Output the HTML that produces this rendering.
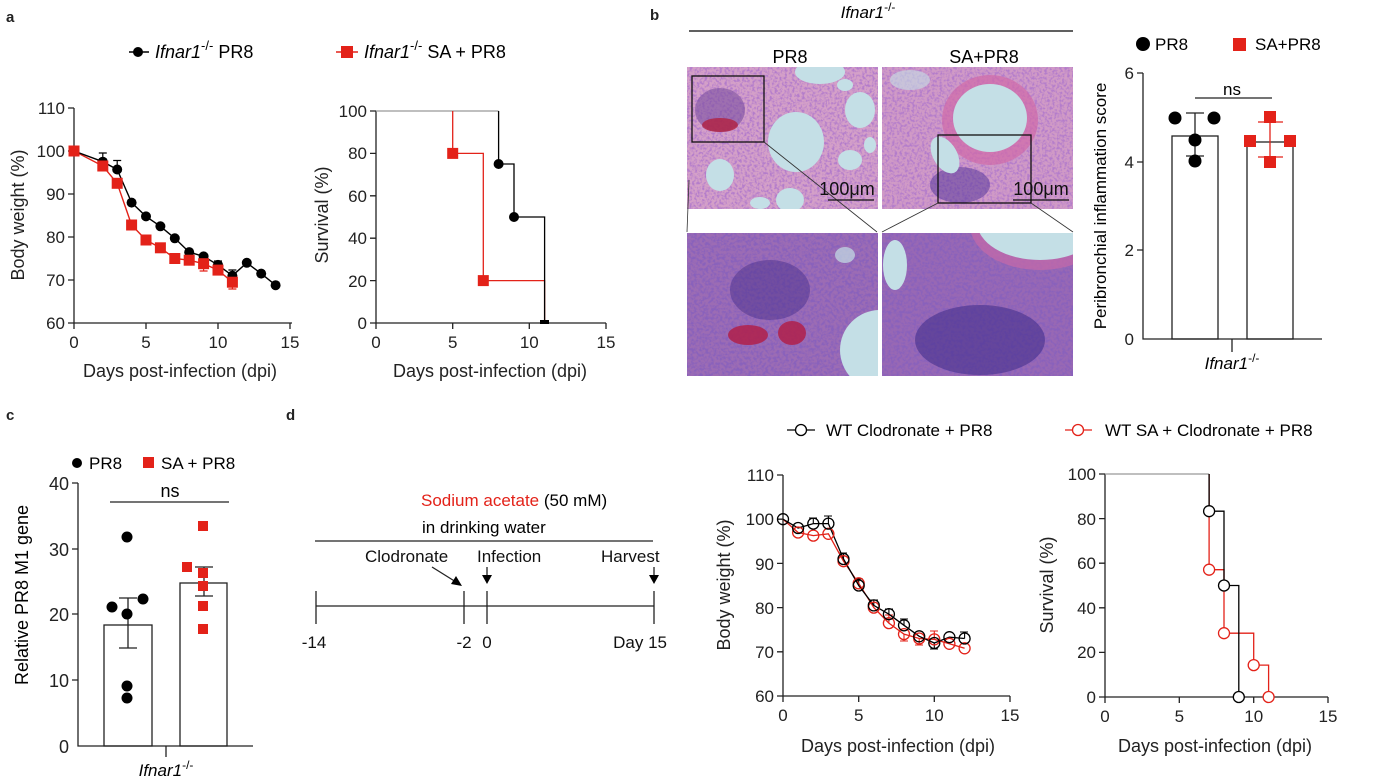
<!DOCTYPE html>
<html><head><meta charset="utf-8"><style>
html,body{margin:0;padding:0;background:#fff;}
svg{display:block;font-family:"Liberation Sans",Arial,sans-serif;}
</style></head><body>
<svg width="1377" height="780" viewBox="0 0 1377 780" xmlns="http://www.w3.org/2000/svg">
<defs>
<filter id="nz" x="0" y="0" width="100%" height="100%">
<feTurbulence type="fractalNoise" baseFrequency="0.4" numOctaves="2" seed="3"/>
<feColorMatrix values="0 0 0 0 0.45  0 0 0 0 0.2  0 0 0 0 0.6  3.5 0 0 0 -1.5"/>
</filter>
<filter id="nz2" x="0" y="0" width="100%" height="100%">
<feTurbulence type="fractalNoise" baseFrequency="0.35" numOctaves="2" seed="7"/>
<feColorMatrix values="0 0 0 0 0.25  0 0 0 0 0.12  0 0 0 0 0.5  3.5 0 0 0 -1.4"/>
</filter>
<clipPath id="c1"><rect x="687" y="67" width="191" height="142"/></clipPath>
<clipPath id="c2"><rect x="882" y="67" width="191" height="142"/></clipPath>
<clipPath id="c3"><rect x="687" y="233" width="191" height="143"/></clipPath>
<clipPath id="c4"><rect x="882" y="233" width="191" height="143"/></clipPath>
</defs>

<g font-weight="bold" font-size="15" fill="#222">
<text x="6" y="22">a</text><text x="650" y="20">b</text><text x="6" y="420">c</text><text x="286" y="420">d</text>
</g>

<!-- Panel a legend -->
<g font-size="18">
<line x1="129" y1="52" x2="149" y2="52" stroke="#000" stroke-width="1.5"/><circle cx="138" cy="52" r="5" fill="#000"/>
<text x="155" y="58"><tspan font-style="italic">Ifnar1</tspan><tspan font-size="13" dy="-8">-/-</tspan><tspan dy="8"> PR8</tspan></text>
<line x1="336" y1="52" x2="358" y2="52" stroke="#e32219" stroke-width="1.5"/><rect x="341" y="46" width="12" height="12" fill="#e32219"/>
<text x="364" y="58"><tspan font-style="italic">Ifnar1</tspan><tspan font-size="13" dy="-8">-/-</tspan><tspan dy="8"> SA + PR8</tspan></text>
</g>

<!-- a-left -->
<g stroke="#222" stroke-width="1.3" fill="none">
<path d="M74,108V323H292"/>
<path d="M68,108H74M68,151H74M68,194H74M68,237H74M68,280H74M68,323H74"/>
<path d="M74,323V329M146,323V329M218,323V329M290,323V329"/>
</g>
<g font-size="17" text-anchor="end" fill="#222">
<text x="65" y="114">110</text><text x="65" y="157">100</text><text x="65" y="200">90</text><text x="65" y="243">80</text><text x="65" y="286">70</text><text x="65" y="329">60</text>
</g>
<g font-size="17" text-anchor="middle" fill="#222">
<text x="74" y="348">0</text><text x="146" y="348">5</text><text x="218" y="348">10</text><text x="290" y="348">15</text>
<text x="180" y="377" font-size="18">Days post-infection (dpi)</text>
<text transform="translate(24,215) rotate(-90)" font-size="18">Body weight (%)</text>
</g>
<g stroke="#000" stroke-width="1.2">
<path d="M102.8,161.7V153M98.8,153H106.8M117.2,169.5V160.5M113.2,160.5H121.2M218,264.9V261M214,261H222M232.4,275.7V270M228.4,270H236.4"/>
</g>
<g stroke="#e32219" stroke-width="1.2">
<path d="M232.4,282.2V289M228.4,289H236.4M232.4,282V275M203.6,263.7V271M199.6,271H207.6"/>
</g>
<polyline fill="none" stroke="#e32219" stroke-width="1.4" points="74,151 102.8,166 117.2,183.3 131.6,225 146,240 160.4,247.8 174.8,258.5 189.2,260.2 203.6,263.7 218,270.1 232.4,282.2"/>
<polyline fill="none" stroke="#000" stroke-width="1.4" points="74,151 102.8,161.7 117.2,169.5 131.6,202.6 146,216.4 160.4,226.3 174.8,238.3 189.2,252.1 203.6,256.4 218,264.9 232.4,275.7 246.8,262.8 261.2,273.6 275.6,285.2"/>
<g fill="#000">
<circle cx="102.8" cy="161.7" r="5"/><circle cx="117.2" cy="169.5" r="5"/><circle cx="131.6" cy="202.6" r="5"/><circle cx="146" cy="216.4" r="5"/><circle cx="160.4" cy="226.3" r="5"/><circle cx="174.8" cy="238.3" r="5"/><circle cx="189.2" cy="252.1" r="5"/><circle cx="203.6" cy="256.4" r="5"/><circle cx="218" cy="264.9" r="5"/><circle cx="232.4" cy="275.7" r="5"/><circle cx="246.8" cy="262.8" r="5"/><circle cx="261.2" cy="273.6" r="5"/><circle cx="275.6" cy="285.2" r="5"/>
</g>
<g fill="#e32219">
<rect x="68.5" y="145.5" width="11" height="11"/><rect x="97.3" y="160.5" width="11" height="11"/><rect x="111.7" y="177.8" width="11" height="11"/><rect x="126.1" y="219.5" width="11" height="11"/><rect x="140.5" y="234.5" width="11" height="11"/><rect x="154.9" y="242.3" width="11" height="11"/><rect x="169.3" y="253" width="11" height="11"/><rect x="183.7" y="254.7" width="11" height="11"/><rect x="198.1" y="258.2" width="11" height="11"/><rect x="212.5" y="264.6" width="11" height="11"/><rect x="226.9" y="276.7" width="11" height="11"/>
</g>

<!-- a-right -->
<g stroke="#222" stroke-width="1.3" fill="none">
<path d="M376,111V323H606"/>
<path d="M370,111H376M370,153.4H376M370,195.8H376M370,238.2H376M370,280.6H376M370,323H376"/>
<path d="M376,323V329M452.7,323V329M529.3,323V329M606,323V329"/>
</g>
<g font-size="17" text-anchor="end" fill="#222">
<text x="367" y="117">100</text><text x="367" y="159">80</text><text x="367" y="202">60</text><text x="367" y="244">40</text><text x="367" y="287">20</text><text x="367" y="329">0</text>
</g>
<g font-size="17" text-anchor="middle" fill="#222">
<text x="376" y="348">0</text><text x="452.7" y="348">5</text><text x="529.3" y="348">10</text><text x="606" y="348">15</text>
<text x="490" y="377" font-size="18">Days post-infection (dpi)</text>
<text transform="translate(328,215) rotate(-90)" font-size="18">Survival (%)</text>
</g>
<path d="M376,111H498.6" stroke="#999" stroke-width="1.3" fill="none"/>
<path d="M452.7,111V153.4H483.3V280.6H544.6V323" stroke="#e32219" stroke-width="1.3" fill="none"/>
<path d="M498.6,111V164H514V217H544.6V323" stroke="#000" stroke-width="1.3" fill="none"/>
<rect x="447.2" y="147.9" width="11" height="11" fill="#e32219"/><rect x="477.8" y="275.1" width="11" height="11" fill="#e32219"/>
<circle cx="498.6" cy="164" r="5"/><circle cx="514" cy="217" r="5"/>
<rect x="540" y="320" width="9" height="4" fill="#000"/>

<!-- Panel b histology -->
<text x="868" y="18" font-size="17" font-style="italic" text-anchor="middle">Ifnar1<tspan font-size="12" dy="-7" font-style="normal">-/-</tspan></text>
<line x1="689" y1="31" x2="1073" y2="31" stroke="#000" stroke-width="1.3"/>
<text x="790" y="63" font-size="18" text-anchor="middle">PR8</text>
<text x="984" y="63" font-size="18" text-anchor="middle">SA+PR8</text>

<g clip-path="url(#c1)">
<rect x="687" y="67" width="191" height="142" fill="#d4a0c8"/>
<rect x="687" y="67" width="191" height="142" filter="url(#nz)"/>
<ellipse cx="720" cy="110" rx="25" ry="22" fill="#7a4fa0" opacity="0.6"/>
<ellipse cx="720" cy="125" rx="18" ry="7" fill="#b22040" opacity="0.8"/>
<ellipse cx="796" cy="142" rx="28" ry="30" fill="#c4dfe6"/>
<ellipse cx="820" cy="72" rx="25" ry="12" fill="#c4dfe6"/>
<ellipse cx="860" cy="110" rx="15" ry="18" fill="#c4dfe6"/>
<ellipse cx="850" cy="160" rx="12" ry="10" fill="#c4dfe6"/>
<ellipse cx="720" cy="175" rx="14" ry="16" fill="#c4dfe6"/>
<ellipse cx="790" cy="200" rx="14" ry="12" fill="#c4dfe6"/>
<ellipse cx="760" cy="203" rx="10" ry="6" fill="#c4dfe6"/>
<ellipse cx="845" cy="85" rx="8" ry="6" fill="#c4dfe6"/>
<ellipse cx="870" cy="145" rx="6" ry="8" fill="#c4dfe6"/>
</g>
<g clip-path="url(#c2)">
<rect x="882" y="67" width="191" height="142" fill="#d09ac6"/>
<rect x="882" y="67" width="191" height="142" filter="url(#nz)"/>
<ellipse cx="990" cy="120" rx="48" ry="45" fill="#d06aa8" opacity="0.7"/>
<ellipse cx="990" cy="118" rx="37" ry="34" fill="#c4dfe6"/>
<ellipse cx="960" cy="185" rx="30" ry="18" fill="#5a3a9a" opacity="0.55"/>
<ellipse cx="945" cy="155" rx="12" ry="20" fill="#c4dfe6" transform="rotate(-30 945 155)"/>
<ellipse cx="910" cy="80" rx="20" ry="10" fill="#c4dfe6" opacity="0.6"/>
</g>
<g clip-path="url(#c3)">
<rect x="687" y="233" width="191" height="143" fill="#9c6cb4"/>
<rect x="687" y="233" width="191" height="143" filter="url(#nz2)"/>
<ellipse cx="770" cy="290" rx="40" ry="30" fill="#4a2f8c" opacity="0.5"/>
<ellipse cx="748" cy="335" rx="20" ry="10" fill="#b0204a" opacity="0.85"/>
<ellipse cx="792" cy="333" rx="14" ry="12" fill="#b0204a" opacity="0.85"/>
<ellipse cx="880" cy="350" rx="40" ry="40" fill="#c4dfe6"/>
<ellipse cx="845" cy="255" rx="10" ry="8" fill="#c4dfe6" opacity="0.7"/>
</g>
<g clip-path="url(#c4)">
<rect x="882" y="233" width="191" height="143" fill="#9868b4"/>
<rect x="882" y="233" width="191" height="143" filter="url(#nz2)"/>
<ellipse cx="1040" cy="225" rx="70" ry="45" fill="#c66aa8" opacity="0.7"/>
<ellipse cx="1040" cy="222" rx="63" ry="38" fill="#c4dfe6"/>
<ellipse cx="895" cy="265" rx="12" ry="25" fill="#c4dfe6"/>
<ellipse cx="980" cy="340" rx="65" ry="35" fill="#3c2a88" opacity="0.55"/>
</g>
<g fill="none" stroke="#111" stroke-width="1.3">
<rect x="692" y="76" width="72" height="66"/>
<rect x="938" y="135" width="93" height="68"/>
</g>
<g stroke="#333" stroke-width="0.8">
<line x1="764" y1="142" x2="877" y2="232"/><line x1="689" y1="180" x2="687" y2="232"/>
<line x1="938" y1="203" x2="882" y2="232"/><line x1="1031" y1="203" x2="1073" y2="232"/>
</g>
<g font-size="18" text-anchor="middle" fill="#111">
<text x="847" y="195">100μm</text><text x="1041" y="195">100μm</text>
</g>
<g stroke="#111" stroke-width="1.3"><line x1="828" y1="200" x2="874" y2="200"/><line x1="1013" y1="200" x2="1069" y2="200"/></g>

<!-- b bar chart -->
<circle cx="1143" cy="44" r="7" fill="#000"/><text x="1155" y="50" font-size="17">PR8</text>
<rect x="1233" y="38" width="13" height="13" fill="#e32219"/><text x="1255" y="50" font-size="17">SA+PR8</text>
<g stroke="#222" stroke-width="1.3" fill="none">
<path d="M1143,73V339H1322"/>
<path d="M1137,73H1143M1137,162H1143M1137,250H1143M1232,339V352"/>
<rect x="1172" y="136" width="46" height="203"/>
<rect x="1247" y="142" width="46" height="197"/>
<path d="M1195,98H1272"/>
<path d="M1195,113V156M1186,113H1204M1186,156H1204"/>
</g>
<path d="M1270,122V157M1258,122H1283M1258,157H1283" stroke="#e32219" stroke-width="1.3"/>
<g font-size="17" text-anchor="end" fill="#222">
<text x="1134" y="79">6</text><text x="1134" y="168">4</text><text x="1134" y="256">2</text><text x="1134" y="345">0</text>
</g>
<text x="1232" y="95" font-size="17" text-anchor="middle">ns</text>
<text transform="translate(1106,206) rotate(-90)" font-size="17" text-anchor="middle">Peribronchial inflammation score</text>
<text x="1232" y="369" font-size="17" font-style="italic" text-anchor="middle">Ifnar1<tspan font-size="12" dy="-7" font-style="normal">-/-</tspan></text>
<g fill="#000"><circle cx="1175" cy="118" r="6.5"/><circle cx="1214" cy="118" r="6.5"/><circle cx="1195" cy="140" r="6.5"/><circle cx="1195" cy="161" r="6.5"/></g>
<g fill="#e32219"><rect x="1244" y="135" width="12" height="12"/><rect x="1284" y="135" width="12" height="12"/><rect x="1264" y="111" width="12" height="12"/><rect x="1264" y="156" width="12" height="12"/></g>

<!-- Panel c -->
<circle cx="77" cy="463" r="5" fill="#000"/><text x="89" y="469" font-size="17">PR8</text>
<rect x="143" y="457" width="11" height="11" fill="#e32219"/><text x="161" y="469" font-size="17">SA + PR8</text>
<g stroke="#222" stroke-width="1.3" fill="none">
<path d="M78,483V746H253"/>
<path d="M72,483H78M72,549H78M72,614H78M72,680H78M166,746V757"/>
<rect x="104" y="625" width="48" height="121"/>
<rect x="180" y="583" width="47" height="163"/>
<path d="M110,502H229"/>
<path d="M128,598V648M119,598H137M119,648H137"/>
<path d="M204,567V596M195,567H213M195,596H213"/>
</g>
<g font-size="18" text-anchor="end" fill="#222">
<text x="69" y="490">40</text><text x="69" y="556">30</text><text x="69" y="621">20</text><text x="69" y="687">10</text><text x="69" y="753">0</text>
</g>
<text x="170" y="497" font-size="18" text-anchor="middle">ns</text>
<text transform="translate(28,595) rotate(-90)" font-size="18" text-anchor="middle">Relative PR8 M1 gene</text>
<text x="166" y="776" font-size="17" font-style="italic" text-anchor="middle">Ifnar1<tspan font-size="12" dy="-7" font-style="normal">-/-</tspan></text>
<g fill="#000"><circle cx="112" cy="607" r="5.5"/><circle cx="127" cy="614" r="5.5"/><circle cx="143" cy="599" r="5.5"/><circle cx="127" cy="537" r="5.5"/><circle cx="127" cy="686" r="5.5"/><circle cx="127" cy="698" r="5.5"/></g>
<g fill="#e32219"><rect x="182" y="562" width="10" height="10"/><rect x="198" y="521" width="10" height="10"/><rect x="198" y="568" width="10" height="10"/><rect x="198" y="581" width="10" height="10"/><rect x="198" y="601" width="10" height="10"/><rect x="198" y="624" width="10" height="10"/></g>

<!-- Panel d timeline -->
<text x="421" y="506" font-size="17"><tspan fill="#e32219">Sodium acetate</tspan> (50 mM)</text>
<text x="422" y="533" font-size="17">in drinking water</text>
<line x1="315" y1="541" x2="653" y2="541" stroke="#222" stroke-width="1.3"/>
<g font-size="17" fill="#111">
<text x="365" y="562">Clodronate</text><text x="477" y="562">Infection</text><text x="601" y="562">Harvest</text>
</g>
<g stroke="#222" stroke-width="1.3">
<line x1="316" y1="606" x2="654" y2="606"/>
<line x1="316" y1="591" x2="316" y2="624"/><line x1="464" y1="591" x2="464" y2="624"/><line x1="487" y1="591" x2="487" y2="624"/><line x1="654" y1="591" x2="654" y2="624"/>
<line x1="432" y1="567" x2="456" y2="582"/><line x1="487" y1="567" x2="487" y2="576"/><line x1="654" y1="567" x2="654" y2="576"/>
</g>
<g fill="#000">
<polygon points="462,586 451,584 456,576"/>
<polygon points="482,575 492,575 487,584"/><polygon points="649,575 659,575 654,584"/>
</g>
<g font-size="17" text-anchor="middle" fill="#111">
<text x="314" y="648">-14</text><text x="464" y="648">-2</text><text x="487" y="648">0</text><text x="667" y="648" text-anchor="end">Day 15</text>
</g>

<!-- d legend -->
<line x1="787" y1="430" x2="815" y2="430" stroke="#000" stroke-width="1.3"/><circle cx="801" cy="430" r="5.5" fill="#fff" stroke="#000" stroke-width="1.3"/>
<text x="826" y="436" font-size="17">WT Clodronate + PR8</text>
<line x1="1065" y1="430" x2="1092" y2="430" stroke="#e32219" stroke-width="1.3"/><circle cx="1078" cy="430" r="5.5" fill="#fff" stroke="#e32219" stroke-width="1.3"/>
<text x="1105" y="436" font-size="17">WT SA + Clodronate + PR8</text>

<!-- d-left -->
<g stroke="#222" stroke-width="1.3" fill="none">
<path d="M783,475V696H1010"/>
<path d="M777,475H783M777,519.2H783M777,563.4H783M777,607.6H783M777,651.8H783M777,696H783"/>
<path d="M783,696V702M858.7,696V702M934.3,696V702M1010,696V702"/>
</g>
<g font-size="17" text-anchor="end" fill="#222">
<text x="774" y="481">110</text><text x="774" y="525">100</text><text x="774" y="570">90</text><text x="774" y="614">80</text><text x="774" y="658">70</text><text x="774" y="702">60</text>
</g>
<g font-size="17" text-anchor="middle" fill="#222">
<text x="783" y="721">0</text><text x="858.7" y="721">5</text><text x="934.3" y="721">10</text><text x="1010" y="721">15</text>
<text x="898" y="752" font-size="18">Days post-infection (dpi)</text>
<text transform="translate(730,585) rotate(-90)" font-size="18">Body weight (%)</text>
</g>
<g stroke="#e32219" stroke-width="1.1">
<path d="M888.9,623V615M885,615H893M904,634V641M900,641H908M919.2,638.5V645M915,645H923M934.3,639.4V631M930,631H938"/>
</g>
<g stroke="#000" stroke-width="1.1">
<path d="M813.3,523.6V518M809,518H817M828.4,523.6V516M824,516H832M843.5,559V553M839,553H847M858.7,585.5V579M855,579H863M873.8,605.4V600M870,600H878M888.9,614.2V609M885,609H893M904,625.3V619M900,619H908M934.3,643V649M930,649H938M964.6,638.5V632M960,632H968"/>
</g>
<polyline fill="none" stroke="#e32219" stroke-width="1.3" points="783,519.2 798.1,532.5 813.3,535.6 828.4,533.8 843.5,561.2 858.7,583.3 873.8,607.6 888.9,623.1 904,634.1 919.2,638.5 934.3,639.4 949.4,643.8 964.6,648.3"/>
<polyline fill="none" stroke="#000" stroke-width="1.3" points="783,519.2 798.1,528 813.3,523.6 828.4,523.6 843.5,559 858.7,585.5 873.8,605.4 888.9,614.2 904,625.3 919.2,636.3 934.3,643 949.4,637.2 964.6,638.5"/>
<g fill="none" stroke="#e32219" stroke-width="1.3">
<circle cx="798.1" cy="532.5" r="5.5"/><circle cx="813.3" cy="535.6" r="5.5"/><circle cx="828.4" cy="533.8" r="5.5"/><circle cx="843.5" cy="561.2" r="5.5"/><circle cx="858.7" cy="583.3" r="5.5"/><circle cx="873.8" cy="607.6" r="5.5"/><circle cx="888.9" cy="623.1" r="5.5"/><circle cx="904" cy="634.1" r="5.5"/><circle cx="919.2" cy="638.5" r="5.5"/><circle cx="934.3" cy="639.4" r="5.5"/><circle cx="949.4" cy="643.8" r="5.5"/><circle cx="964.6" cy="648.3" r="5.5"/>
</g>
<g fill="none" stroke="#000" stroke-width="1.3">
<circle cx="783" cy="519.2" r="5.5"/><circle cx="798.1" cy="528" r="5.5"/><circle cx="813.3" cy="523.6" r="5.5"/><circle cx="828.4" cy="523.6" r="5.5"/><circle cx="843.5" cy="559" r="5.5"/><circle cx="858.7" cy="585.5" r="5.5"/><circle cx="873.8" cy="605.4" r="5.5"/><circle cx="888.9" cy="614.2" r="5.5"/><circle cx="904" cy="625.3" r="5.5"/><circle cx="919.2" cy="636.3" r="5.5"/><circle cx="934.3" cy="643" r="5.5"/><circle cx="949.4" cy="637.2" r="5.5"/><circle cx="964.6" cy="638.5" r="5.5"/>
</g>

<!-- d-right -->
<g stroke="#222" stroke-width="1.3" fill="none">
<path d="M1105,474V697H1328"/>
<path d="M1099,474H1105M1099,518.6H1105M1099,563.2H1105M1099,607.8H1105M1099,652.4H1105M1099,697H1105"/>
<path d="M1105,697V703M1179.3,697V703M1253.7,697V703M1328,697V703"/>
</g>
<g font-size="17" text-anchor="end" fill="#222">
<text x="1096" y="480">100</text><text x="1096" y="525">80</text><text x="1096" y="569">60</text><text x="1096" y="614">40</text><text x="1096" y="658">20</text><text x="1096" y="703">0</text>
</g>
<g font-size="17" text-anchor="middle" fill="#222">
<text x="1105" y="722">0</text><text x="1179.3" y="722">5</text><text x="1253.7" y="722">10</text><text x="1328" y="722">15</text>
<text x="1215" y="752" font-size="18">Days post-infection (dpi)</text>
<text transform="translate(1053,585) rotate(-90)" font-size="18">Survival (%)</text>
</g>
<path d="M1105,474H1209.1" stroke="#999" stroke-width="1.3" fill="none"/>
<path d="M1209.1,474V569.7H1224V633.2H1253.7V665.1H1268.6V697" stroke="#e32219" stroke-width="1.3" fill="none"/>
<path d="M1209.1,474V511.2H1224V585.5H1238.8V697" stroke="#000" stroke-width="1.3" fill="none"/>
<g fill="#fff" stroke="#e32219" stroke-width="1.3">
<circle cx="1209.1" cy="569.7" r="5.5"/><circle cx="1224" cy="633.2" r="5.5"/><circle cx="1253.7" cy="665.1" r="5.5"/><circle cx="1268.6" cy="697" r="5.5"/>
</g>
<g fill="#fff" stroke="#000" stroke-width="1.3">
<circle cx="1209.1" cy="511.2" r="5.5"/><circle cx="1224" cy="585.5" r="5.5"/><circle cx="1238.8" cy="697" r="5.5"/>
</g>
</svg>
</body></html>
